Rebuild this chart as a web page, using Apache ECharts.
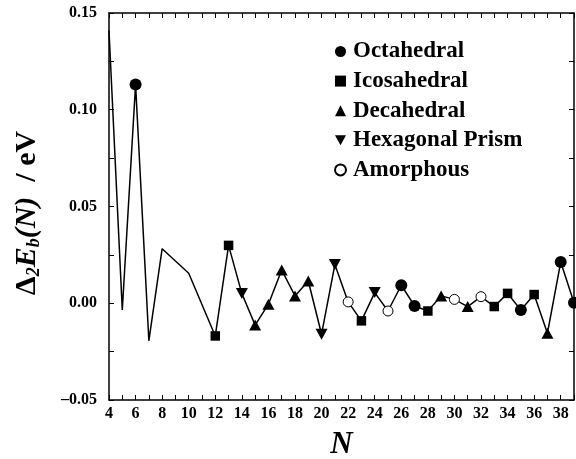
<!DOCTYPE html>
<html>
<head>
<meta charset="utf-8">
<script src="https://cdn.jsdelivr.net/npm/echarts@6/dist/echarts.min.js"></script>
<style>
html,body{margin:0;padding:0;background:#fff;}
#chart{width:576px;height:459px;}
</style>
</head>
<body>
<div id="chart"></div>
<script>
// Cluster size N and second finite difference of binding energy (eV)
const sizes = [4,5,6,7,8,9,10,12,13,14,15,16,17,18,19,20,21,22,23,24,25,26,27,28,29,30,31,32,33,34,35,36,37,38,39];
const d2Eb  = [0.141,-0.0035,0.113,-0.0194,0.0282,0.0218,0.0155,-0.0169,0.0299,0.0050,-0.0113,-0.0005,0.0172,0.0038,0.0115,-0.0160,0.0200,0.0007,-0.0091,0.0055,-0.0040,0.0093,-0.0014,-0.0040,0.0038,0.0020,-0.0017,0.0034,-0.0017,0.0051,-0.0035,0.0045,-0.0155,0.0213,0.0003];
// structure type per size: O=Octahedral, I=Icosahedral, D=Decahedral, H=Hexagonal Prism, A=Amorphous, ''=none
const structure = ['','','O','','','','','I','I','H','D','D','D','D','D','H','H','A','I','H','A','O','O','I','D','A','D','A','I','I','O','I','D','O','O'];
const classCodes = ['O','I','D','H','A'];
const classNames = ['Octahedral','Icosahedral','Decahedral','Hexagonal Prism','Amorphous'];
const yTicks = [-0.05, 0, 0.05, 0.10, 0.15];

const FONT = '"Liberation Serif","Times New Roman",serif';
const downTri = 'path://M0,0L10,0L5,9Z';
const symbols = {
  O: {symbol:'circle', size:12, style:{color:'#000', opacity:1}},
  I: {symbol:'rect', size:9.5, style:{color:'#000', opacity:1}},
  D: {symbol:'triangle', size:[12,11], style:{color:'#000', opacity:1}},
  H: {symbol:downTri, size:[12,11], style:{color:'#000', opacity:1}},
  A: {symbol:'circle', size:10, style:{color:'#fff', borderColor:'#000', borderWidth:1, opacity:1}}
};

const chart = echarts.init(document.getElementById('chart'), null, {renderer:'canvas'});

const lineData = sizes.map((n,i)=>[n, d2Eb[i]]);
const scatterSeries = classCodes.map((code, k) => ({
  name: classNames[k],
  type: 'scatter',
  data: sizes.map((n,i)=> structure[i]===code ? [n, d2Eb[i]] : null).filter(d=>d),
  symbol: symbols[code].symbol,
  symbolSize: symbols[code].size,
  itemStyle: symbols[code].style,
  z: 3
}));

const axisCommon = {
  axisLine: {show:true, onZero:false, lineStyle:{color:'#000', width:1.5}},
  axisTick: {show:true, inside:true, length:5, lineStyle:{color:'#000', width:1}},
  splitLine: {show:false}
};

chart.setOption({
  animation: false,
  backgroundColor: '#fff',
  grid: {left:109, right:2, top:13, bottom:59, containLabel:false, outerBoundsMode:'none'},
  legend: {
    orient: 'vertical',
    left: 334, top: 40,
    padding: 0,
    itemWidth: 11, itemHeight: 11,
    itemGap: 6.6,
    textStyle: {fontFamily: FONT, fontWeight:'bold', fontSize:23, color:'#000', lineHeight:22, padding:[0,0,0,2]},
    data: classCodes.map((code,k)=>({
      name: classNames[k],
      icon: code==='O' ? 'circle' : code==='I' ? 'rect' : code==='D' ? 'triangle' : code==='H' ? downTri : 'circle'
    }))
  },
  xAxis: [
    Object.assign({}, axisCommon, {
      type:'value', min:4, max:39, interval:1, position:'bottom',
      name: 'N', nameLocation:'middle', nameGap: 29,
      nameTextStyle: {fontFamily: FONT, fontWeight:'bold', fontStyle:'italic', fontSize:31, color:'#000'},
      axisLabel: {
        show:true, margin:6, color:'#000', fontFamily: FONT, fontWeight:'bold', fontSize:16,
        formatter: v => (v % 2 === 0 && v <= 38) ? String(v) : ''
      }
    }),
    Object.assign({}, axisCommon, {
      type:'value', min:4, max:39, interval:1, position:'top',
      axisLabel: {show:false}
    })
  ],
  yAxis: [
    Object.assign({}, axisCommon, {
      type:'value', min:-0.05, max:0.15, interval:0.05, position:'left',
      minorTick: {show:true, splitNumber:2, length:5, lineStyle:{color:'#000', width:1}},
      axisLabel: {
        show:true, margin:12, color:'#000', fontFamily: FONT, fontWeight:'bold', fontSize:16,
        formatter: v => {
          const t = yTicks.find(x => Math.abs(x - v) < 1e-9);
          if (t === undefined) return '';
          return t < 0 ? '\u2013' + Math.abs(t).toFixed(2) : t.toFixed(2);
        }
      }
    }),
    Object.assign({}, axisCommon, {
      type:'value', min:-0.05, max:0.15, interval:0.05, position:'right',
      minorTick: {show:true, splitNumber:2, length:5, lineStyle:{color:'#000', width:1}},
      axisLabel: {show:false}
    })
  ],
  graphic: [{
    type:'text',
    x: 27, y: 213,
    rotation: Math.PI/2,
    style: {
      text: '{m|\u0394}{s|2}{i|E}{s|b}{i|(N)}{m|  / eV}',
      align:'center', verticalAlign:'middle',
      fill:'#000',
      rich: {
        m: {fontFamily: FONT, fontWeight:'bold', fontSize:30, lineHeight:32, fill:'#000'},
        i: {fontFamily: FONT, fontWeight:'bold', fontStyle:'italic', fontSize:30, lineHeight:32, fill:'#000'},
        s: {fontFamily: FONT, fontWeight:'bold', fontStyle:'italic', fontSize:18, lineHeight:16, verticalAlign:'bottom', fill:'#000'}
      }
    }
  }],
  series: [
    {
      name: 'line', type:'line', data: lineData, showSymbol:false, symbol:'none',
      lineStyle: {color:'#000', width:1.5}, z:2, silent:true
    }
  ].concat(scatterSeries)
});
</script>
</body>
</html>
